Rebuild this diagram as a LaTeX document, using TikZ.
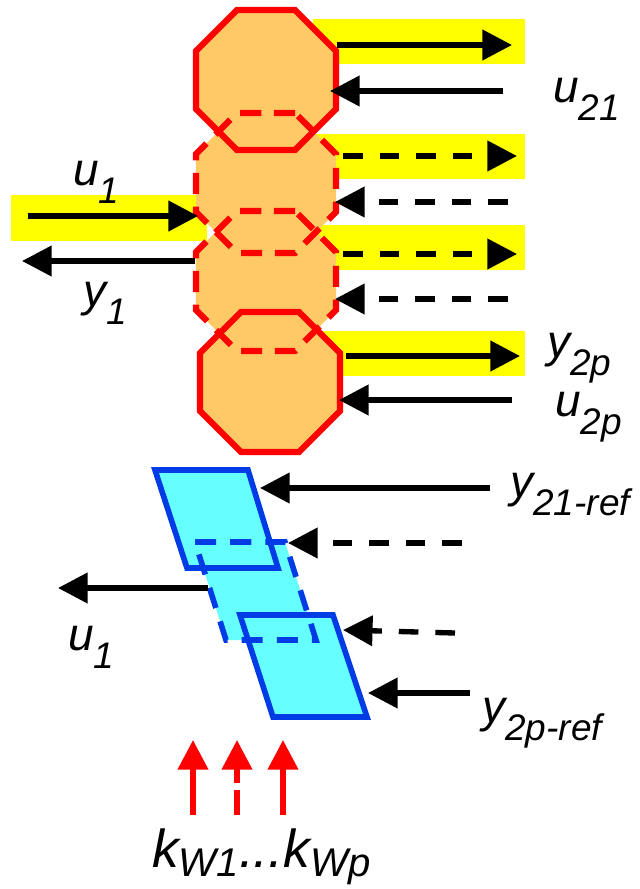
\documentclass[tikz,border=0pt]{standalone}
\usepackage{fontspec}
\setmainfont{Liberation Sans}
\usetikzlibrary{shapes.geometric,arrows.meta}

\definecolor{octfill}{RGB}{255,201,102}
\definecolor{bandyellow}{RGB}{255,255,0}
\definecolor{parafill}{RGB}{102,255,255}
\definecolor{parablue}{RGB}{0,60,230}

% signal name with a lowered subscript
\newcommand{\sig}[2]{{\fontsize{32.7}{36}\selectfont\itshape #1\raisebox{-12.8pt}{\fontsize{26.3}{28}\selectfont #2}}}
\newcommand{\sigk}[2]{{\fontsize{38}{42}\selectfont\itshape #1\raisebox{-7pt}{\fontsize{28.5}{32}\selectfont #2}}}

\tikzset{
  sig/.style={anchor=base west, inner sep=0pt},
  octbody/.style={regular polygon, regular polygon sides=8, minimum size=3.79cm, inner sep=0pt, fill=octfill},
  octedge/.style={regular polygon, regular polygon sides=8, minimum size=3.79cm, inner sep=0pt, draw=red, line width=4.4pt},
  octdash/.style={octedge, dash pattern=on 15pt off 9pt},
  flow/.style={line width=3.8pt, -{Triangle[length=21pt,width=21pt]}},
  dashflow/.style={flow, dash pattern=on 14pt off 12pt},
  paraedge/.style={draw=parablue, line width=4pt, line join=miter},
  gain/.style={red, line width=3.8pt, -{Triangle[length=21pt,width=21pt]}}
}

\begin{document}
\begin{tikzpicture}[x=0.025cm,y=-0.025cm]
\useasboundingbox (0,0) rectangle (639,889);

% yellow bands behind the outputs
\foreach \t in {19,134,225,331}
  \fill[bandyellow] (313,\t) rectangle (525,\t+45);
\fill[bandyellow] (11,195) rectangle (207,241);

% plant chain: bodies first, edges after
\node[octbody] (oct1) at (266,80) {};
\node[octbody] (oct2) at (266,183) {};
\node[octbody] (oct3) at (266,281) {};
\node[octbody] (oct4) at (270,382) {};
\node[octedge] (oct1e) at (oct1) {};
\node[octdash] (oct2e) at (oct2) {};
\node[octdash] (oct3e) at (oct3) {};
\node[octedge] (oct4e) at (oct4) {};

% ends of the right hand arrows
\foreach \n/\xa/\xb/\y in {1/337/512/45, 2/343/517/156, 3/343/517/254, 4/346/520/356} {
  \coordinate (out\n) at (\xa,\y);
  \coordinate (outend\n) at (\xb,\y);
}
\foreach \n/\xa/\xb/\y in {1/503/330/91, 2/508/335/202, 3/508/335/299, 4/512/339/400} {
  \coordinate (in\n) at (\xa,\y);
  \coordinate (inend\n) at (\xb,\y);
}
\draw[flow] (out1) -- (outend1);
\draw[dashflow] (out2) -- (outend2);
\draw[dashflow] (out3) -- (outend3);
\draw[flow] (out4) -- (outend4);
\draw[flow] (in1) -- (inend1);
\draw[dashflow] (in2) -- (inend2);
\draw[dashflow] (in3) -- (inend3);
\draw[flow] (in4) -- (inend4);

% left side input and output
\coordinate (u1a) at (28,216);  \coordinate (u1b) at (198,216);
\coordinate (y1a) at (195,261); \coordinate (y1b) at (22,261);
\draw[flow] (u1a) -- (u1b);
\draw[flow] (y1a) -- (y1b);

% controller blocks
\coordinate (p1a) at (155,470); \coordinate (p1b) at (248,470);
\coordinate (p1c) at (278,568); \coordinate (p1d) at (187,568);
\coordinate (p2a) at (195,542); \coordinate (p2b) at (285,542);
\coordinate (p2c) at (316,640); \coordinate (p2d) at (226,640);
\coordinate (p3a) at (240,615); \coordinate (p3b) at (333,615);
\coordinate (p3c) at (367,717); \coordinate (p3d) at (273,717);
\fill[parafill] (p1a) -- (p1b) -- (p1c) -- (p1d) -- cycle;
\fill[parafill] (p2a) -- (p2b) -- (p2c) -- (p2d) -- cycle;
\fill[parafill] (p3a) -- (p3b) -- (p3c) -- (p3d) -- cycle;
\draw[paraedge] (p1a) -- (p1b) -- (p1c) -- (p1d) -- cycle;
\draw[paraedge, dash pattern=on 15pt off 10pt] (p2a) -- (p2b) -- (p2c) -- (p2d) -- cycle;
\draw[paraedge] (p3a) -- (p3b) -- (p3c) -- (p3d) -- cycle;

% references into the controller
\coordinate (r1a) at (490,488); \coordinate (r1b) at (260,488);
\coordinate (r2a) at (462,543); \coordinate (r2b) at (288,543);
\coordinate (r3a) at (455,633); \coordinate (r3b) at (343,630);
\coordinate (r4a) at (470,693); \coordinate (r4b) at (368,693);
\coordinate (c1a) at (208,588); \coordinate (c1b) at (58,588);
\draw[flow] (r1a) -- (r1b);
\draw[dashflow] (r2a) -- (r2b);
\draw[dashflow] (r3a) -- (r3b);
\draw[flow] (r4a) -- (r4b);
\draw[flow] (c1a) -- (c1b);

% weights
\foreach \n/\x in {1/193,2/237,3/283} {
  \coordinate (w\n a) at (\x,815);
  \coordinate (w\n b) at (\x,740);
}
\draw[gain] (w1a) -- (w1b);
\draw[gain, dash pattern=on 18pt off 5pt] (w2a) -- (w2b);
\draw[gain] (w3a) -- (w3b);

% labels
\node[sig] (lu1) at (73,185) {\sig{u}{1}};
\node[sig] (ly1) at (83,306) {\sig{y}{1}};
\node[sig] (lu21) at (553,102) {\sig{u}{21}};
\node[sig] (ly2p) at (547,357) {\sig{y}{2p}};
\node[sig] (lu2p) at (555,416) {\sig{u}{2p}};
\node[sig] (lyref1) at (510,497) {\sig{y}{21-ref}};
\node[sig] (lyrefp) at (482,722) {\sig{y}{2p-ref}};
\node[sig] (lu1b) at (68,650) {\sig{u}{1}};
\node[sig] (lkw) at (152,867) {\sigk{k}{W1}{\fontsize{38}{42}\selectfont\itshape ...}\sigk{k}{Wp}};
\end{tikzpicture}
\end{document}
